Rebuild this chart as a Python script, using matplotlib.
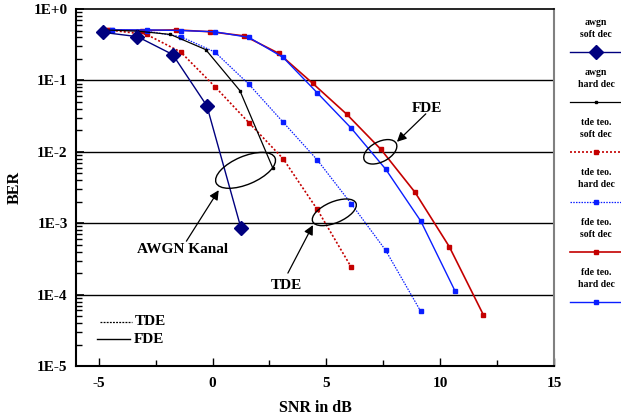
import matplotlib
matplotlib.use("Agg")
import matplotlib.pyplot as plt
import numpy as np
from matplotlib.patches import Ellipse
from matplotlib.lines import Line2D
from matplotlib.transforms import IdentityTransform

plt.rcParams['font.family'] = ['Liberation Serif', 'DejaVu Serif']
plt.rcParams['font.weight'] = 'bold'
plt.rcParams['axes.unicode_minus'] = False

# BER curves, SNR in dB
awgn_soft_snr = [-4.8, -3.3, -1.75, -0.25, 1.25]
awgn_soft_ber = [0.47, 0.41, 0.23, 0.044, 8.5e-4]

awgn_hard_snr = [-4.8, -3.3, -1.85, -0.3, 1.2, 2.65]
awgn_hard_ber = [0.51, 0.49, 0.44, 0.27, 0.072, 5.9e-3]

tde_soft_snr = [-4.6, -2.9, -1.4, 0.1, 1.6, 3.1, 4.6, 6.1]
tde_soft_ber = [0.51, 0.44, 0.25, 0.082, 0.0255, 8.0e-3, 1.56e-3, 2.4e-4]

tde_hard_snr = [-4.4, -2.9, -1.4, 0.1, 1.6, 3.1, 4.6, 6.1, 7.6, 9.15]
tde_hard_ber = [0.51, 0.49, 0.41, 0.25, 0.088, 0.026, 7.7e-3, 1.86e-3, 4.2e-4, 5.8e-5]

fde_soft_snr = [-4.6, -3.1, -1.6, -0.1, 1.4, 2.9, 4.4, 5.9, 7.4, 8.9, 10.4, 11.9]
fde_soft_ber = [0.51, 0.5, 0.51, 0.48, 0.42, 0.24, 0.091, 0.0335, 0.0108, 2.7e-3, 4.7e-4, 5.2e-5]

fde_hard_snr = [-4.4, -2.9, -1.4, 0.1, 1.6, 3.1, 4.6, 6.1, 7.6, 9.15, 10.65]
fde_hard_ber = [0.51, 0.51, 0.5, 0.48, 0.40, 0.21, 0.067, 0.0213, 5.75e-3, 1.07e-3, 1.13e-4]

legend_names = ["awgn\nsoft dec", "awgn\nhard dec", "tde teo.\nsoft dec",
                "tde teo.\nhard dec", "fde teo.\nsoft dec", "fde teo.\nhard dec"]

navy = "#00007f"
red = "#c40000"
blue = "#0a1eff"

styles = [
    dict(color=navy, ls='-', marker='D', ms=7, lw=1.0),
    dict(color='black', ls='-', marker='s', ms=2, lw=0.9),
    dict(color=red, ls=(0, (1.2, 1.2)), marker='s', ms=3.5, lw=1.2),
    dict(color=blue, ls=(0, (1.2, 1.0)), marker='s', ms=3.5, lw=0.9),
    dict(color=red, ls='-', marker='s', ms=3.5, lw=1.2),
    dict(color=blue, ls='-', marker='s', ms=3.5, lw=1.0),
]
series = [(awgn_soft_snr, awgn_soft_ber), (awgn_hard_snr, awgn_hard_ber),
          (tde_soft_snr, tde_soft_ber), (tde_hard_snr, tde_hard_ber),
          (fde_soft_snr, fde_soft_ber), (fde_hard_snr, fde_hard_ber)]

fig = plt.figure(figsize=(6.21, 4.19), dpi=100)
ax = fig.add_axes([0.1224, 0.1265, 0.7696, 0.852])

for ber_val in [1e-1, 1e-2, 1e-3, 1e-4]:
    ax.axhline(ber_val, color='black', lw=1.0, zorder=1)

# draw fde first so awgn/tde sit on top
for i in [4, 5, 2, 3, 1, 0]:
    x, y = series[i]
    ax.plot(x, y, zorder=3, **styles[i])

ax.set_yscale('log')
ax.set_xlim(-6, 15)
ax.set_ylim(1e-5, 1)
ax.set_xticks([-5, 0, 5, 10, 15])
ax.set_xticks([-2.5, 2.5, 7.5, 12.5], minor=True)
ax.set_yticks([1, 1e-1, 1e-2, 1e-3, 1e-4, 1e-5])
ax.set_yticklabels(["1E+0", "1E-1", "1E-2", "1E-3", "1E-4", "1E-5"])
ax.tick_params(axis='both', which='both', direction='in', labelsize=11)
ax.tick_params(axis='y', which='major', length=6, width=1.2, pad=6)
ax.tick_params(axis='y', which='minor', length=4, width=1.0)
ax.tick_params(axis='x', which='major', length=6, width=1.0, pad=8)
ax.tick_params(axis='x', which='minor', length=4, width=1.0)
ax.tick_params(right=False, top=False, which='both')
for lab in ax.get_xticklabels() + ax.get_yticklabels():
    lab.set_fontweight('bold')

ax.spines['left'].set_linewidth(1.5)
ax.spines['bottom'].set_linewidth(1.5)
ax.spines['top'].set_linewidth(1.2)
ax.spines['right'].set_linewidth(1.5)
ax.spines['right'].set_color('#808080')

ax.set_xlabel("SNR in dB", fontsize=11.5, fontweight='bold', labelpad=7)
ax.set_ylabel("BER", fontsize=11.5, fontweight='bold', labelpad=8)

# group ellipses, placed in display pixels around a data point
fig.canvas.draw()
groups = [
    ((1.45, 5.5e-3), 64, 28, 23),
    ((5.35, 1.42e-3), 47, 21, 23),
    ((7.37, 1.0e-2), 36, 20, 28),
]
for center, w, h, ang in groups:
    cx, cy = ax.transData.transform(center)
    e = Ellipse((cx, cy), w, h, angle=ang, transform=IdentityTransform(),
                fill=False, edgecolor='black', lw=1.0, zorder=4)
    fig.add_artist(e)

arrow = dict(arrowstyle='-|>', color='black', lw=0.9, mutation_scale=14,
             shrinkA=0, shrinkB=0)
ax.annotate("", xy=(0.27, 2.9e-3), xytext=(-1.15, 5.6e-4), arrowprops=arrow)
ax.annotate("", xy=(4.41, 9.4e-4), xytext=(3.31, 2.0e-4), arrowprops=arrow)
ax.annotate("", xy=(8.1, 0.0138), xytext=(9.37, 0.034), arrowprops=arrow)
ax.text(-1.3, 4.3e-4, "AWGN Kanal", fontsize=11, fontweight='bold', ha='center', va='center')
ax.text(3.25, 1.35e-4, "TDE", fontsize=11, fontweight='bold', ha='center', va='center')
ax.text(9.4, 0.041, "FDE", fontsize=11, fontweight='bold', ha='center', va='center')

# line style key inside the axes
ax.add_line(Line2D([0.050, 0.117], [0.124, 0.124], transform=ax.transAxes,
                   color='black', ls=(0, (1.5, 1.0)), lw=0.9))
ax.add_line(Line2D([0.044, 0.113], [0.075, 0.075], transform=ax.transAxes,
                   color='black', ls='-', lw=1.0))
ax.text(0.123, 0.124, "TDE", transform=ax.transAxes, fontsize=11, fontweight='bold', va='center')
ax.text(0.120, 0.075, "FDE", transform=ax.transAxes, fontsize=11, fontweight='bold', va='center')

# series key to the right of the axes
for i, name in enumerate(legend_names):
    ty = 1 - (28.5 + 50 * i) / 419
    ly = 1 - (51.7 + 50 * i) / 419
    fig.text(596 / 621, ty, name, fontsize=7, fontweight='bold',
             ha='center', va='center', linespacing=1.5)
    st = styles[i]
    fig.add_artist(Line2D([570 / 621, 1.0], [ly, ly], color=st['color'], ls=st['ls'],
                          lw=st['lw'], transform=fig.transFigure))
    fig.add_artist(Line2D([596 / 621], [ly], color=st['color'], marker=st['marker'],
                          ms=st['ms'], ls='none', transform=fig.transFigure))

fig.savefig("out.png", dpi=100)
